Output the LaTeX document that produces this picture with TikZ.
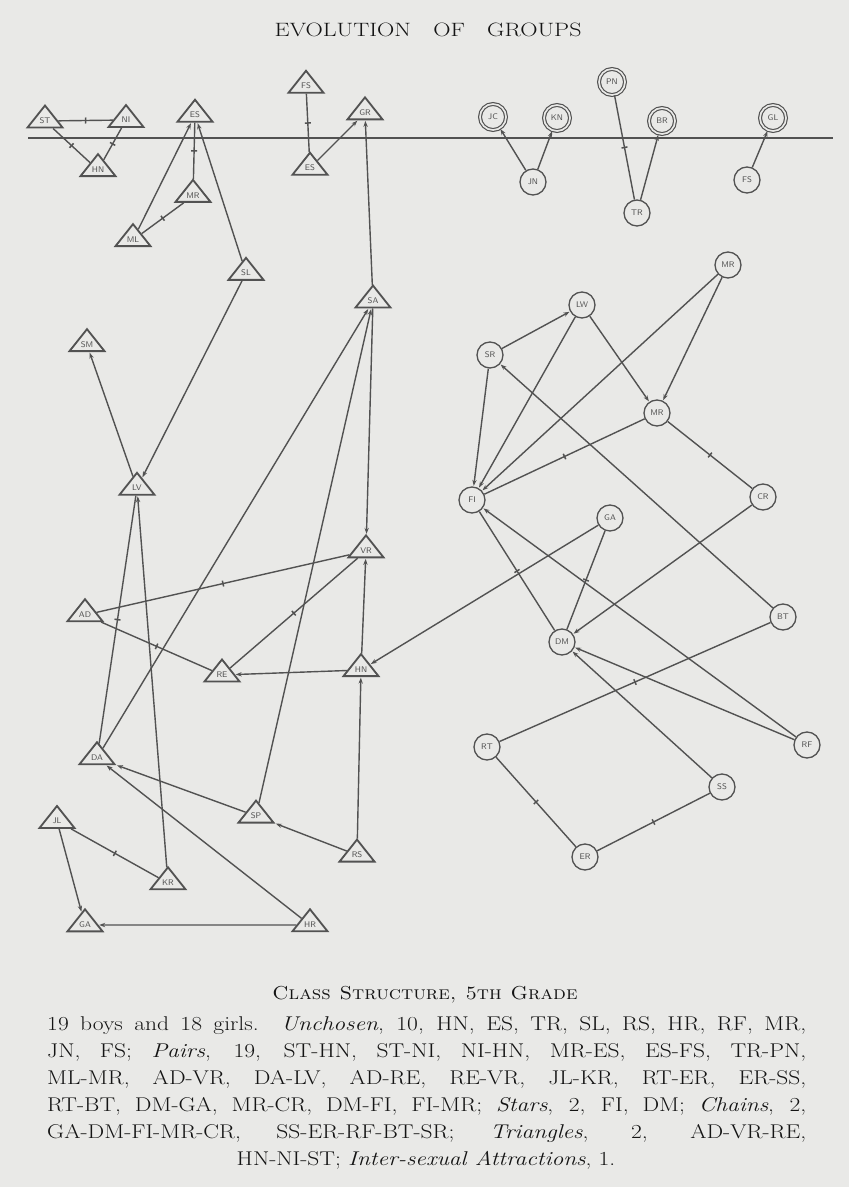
\documentclass[tikz,border=0pt]{standalone}
\usepackage{graphicx}
\usetikzlibrary{shapes.geometric,arrows.meta}
\definecolor{paper}{RGB}{233,233,231}
\definecolor{ink}{RGB}{82,82,82}
\definecolor{txt}{RGB}{20,20,20}
\newcommand{\tline}[1]{\fontsize{17}{17}\selectfont\scalebox{1.18}[1]{\makebox[192.97mm][s]{#1}}}
\begin{document}
\begin{tikzpicture}[x=0.3mm,y=-0.3mm,
  boy/.style={isosceles triangle, isosceles triangle apex angle=80,
    isosceles triangle stretches, shape border rotate=90,
    minimum width=10.5mm, minimum height=6.6mm, inner sep=0pt,
    draw=ink, line width=0.55mm, fill=paper, text=ink,
    font=\fontsize{7}{7}\sffamily},
  girl/.style={circle, minimum size=7.8mm, inner sep=0pt, draw=ink,
    line width=0.4mm, fill=paper, text=ink, font=\fontsize{7}{7}\sffamily},
  girl2/.style={girl, double=paper, double distance=0.5mm, line width=0.35mm},
  link/.style={draw=ink, line width=0.42mm},
  arr/.style={link, -{Stealth[length=1.8mm,width=1.3mm]}, shorten >=0.5pt},
  tk/.style={sloped, shape=rectangle, draw=ink, line width=0.45mm,
    inner sep=0pt, minimum width=0pt, minimum height=1.8mm}]
\fill[paper] (0,0) rectangle (849,1187);
\useasboundingbox (0,0) rectangle (849,1187);

% title
\node[anchor=base, text=txt] (title) at (428,36)
  {\fontsize{16.5}{16.5}\selectfont\scalebox{1.24}[1]{\makebox[74.27mm][s]{EVOLUTION OF GROUPS}}};

% divider line
\coordinate (L1) at (28,138);
\coordinate (L2) at (833,138);
\draw[link] (L1) -- (L2);

% boys (triangles)
\node[boy] (ST) at (45,121) {ST};
\node[boy] (NI) at (126,120) {NI};
\node[boy] (HNt) at (98,170) {HN};
\node[boy] (ESt) at (195,115) {ES};
\node[boy] (MRb) at (193,196) {MR};
\node[boy] (ML) at (133,240) {ML};
\node[boy] (FSb) at (306,86) {FS};
\node[boy] (ESb) at (310,168) {ES};
\node[boy] (GR) at (365,113) {GR};
\node[boy] (SL) at (246,273) {SL};
\node[boy] (SA) at (373,301) {SA};
\node[boy] (SM) at (87,345) {SM};
\node[boy] (LV) at (137,488) {LV};
\node[boy] (VR) at (366,551) {VR};
\node[boy] (AD) at (85,615) {AD};
\node[boy] (RE) at (222,675) {RE};
\node[boy] (HN) at (361,670) {HN};
\node[boy] (DA) at (97,758) {DA};
\node[boy] (SP) at (256,816) {SP};
\node[boy] (JL) at (57,821) {JL};
\node[boy] (RS) at (357,855) {RS};
\node[boy] (KR) at (168,883) {KR};
\node[boy] (GAb) at (85,925) {GA};
\node[boy] (HR) at (310,925) {HR};

% girls (circles)
\node[girl2] (JC) at (493,117) {JC};
\node[girl2] (KN) at (557,118) {KN};
\node[girl2] (PN) at (612,82) {PN};
\node[girl2] (BR) at (662,121) {BR};
\node[girl2] (GL) at (773,118) {GL};
\node[girl] (JN) at (533,182) {JN};
\node[girl] (TR) at (637,213) {TR};
\node[girl] (FS) at (747,180) {FS};
\node[girl] (MRt) at (728,265) {MR};
\node[girl] (LW) at (582,305) {LW};
\node[girl] (SR) at (490,355) {SR};
\node[girl] (MRm) at (657,413) {MR};
\node[girl] (CR) at (763,497) {CR};
\node[girl] (FI) at (472,500) {FI};
\node[girl] (GAg) at (610,518) {GA};
\node[girl] (DM) at (562,642) {DM};
\node[girl] (BT) at (783,617) {BT};
\node[girl] (RT) at (487,747) {RT};
\node[girl] (RF) at (807,745) {RF};
\node[girl] (SS) at (722,787) {SS};
\node[girl] (ER) at (585,857) {ER};

% mutual pairs
\foreach \a/\b in {ST/NI, ST/HNt, NI/HNt, ESt/MRb, ML/MRb, FSb/ESb, TR/PN,
  DA/LV, AD/VR, VR/RE, AD/RE, JL/KR, MRm/FI, MRm/CR, DM/FI, DM/GAg,
  RT/BT, RT/ER, ER/SS}
  \draw[link] (\a) -- node[tk]{} (\b);

% one-way choices
\foreach \a/\b in {ML/ESt, SL/ESt, ESb/GR, SA/GR, JN/JC, JN/KN, TR/BR, FS/GL,
  SL/LV, LV/SM, KR/LV, DA/SA, SP/SA, SA/VR, HN/RE, HN/VR, GAg/HN, RS/HN,
  RS/SP, SP/DA, HR/DA, JL/GAb, HR/GAb, SR/LW, SR/FI, LW/FI, MRt/FI,
  MRt/MRm, LW/MRm, CR/DM, BT/SR, RF/FI, RF/DM, SS/DM}
  \draw[arr] (\a) -- (\b);

% caption
\node[anchor=base, text=txt] (cap) at (425,999)
  {\fontsize{16}{16}\selectfont\scalebox{1.1}[1]{\makebox[83.2mm][s]{\textsc{Class Structure, 5th Grade}}}};

\node[anchor=base west, text=txt, inner sep=0pt] (t1) at (47,1030)
  {\tline{19 boys and 18 girls. \textit{Unchosen}, 10, HN, ES, TR, SL, RS, HR, RF, MR,}};
\node[anchor=base west, text=txt, inner sep=0pt] (t2) at (47,1057)
  {\tline{JN, FS; \textit{Pairs}, 19, ST-HN, ST-NI, NI-HN, MR-ES, ES-FS, TR-PN,}};
\node[anchor=base west, text=txt, inner sep=0pt] (t3) at (47,1084)
  {\tline{ML-MR, AD-VR, DA-LV, AD-RE, RE-VR, JL-KR, RT-ER, ER-SS,}};
\node[anchor=base west, text=txt, inner sep=0pt] (t4) at (47,1111)
  {\tline{RT-BT, DM-GA, MR-CR, DM-FI, FI-MR; \textit{Stars}, 2, FI, DM; \textit{Chains}, 2,}};
\node[anchor=base west, text=txt, inner sep=0pt] (t5) at (47,1138)
  {\tline{GA-DM-FI-MR-CR, SS-ER-RF-BT-SR; \textit{Triangles}, 2, AD-VR-RE,}};
\node[anchor=base, text=txt, inner sep=0pt] (t6) at (426,1165)
  {\fontsize{17}{17}\selectfont\scalebox{1.18}[1]{HN-NI-ST; \textit{Inter-sexual Attractions}, 1.}};
\end{tikzpicture}
\end{document}
